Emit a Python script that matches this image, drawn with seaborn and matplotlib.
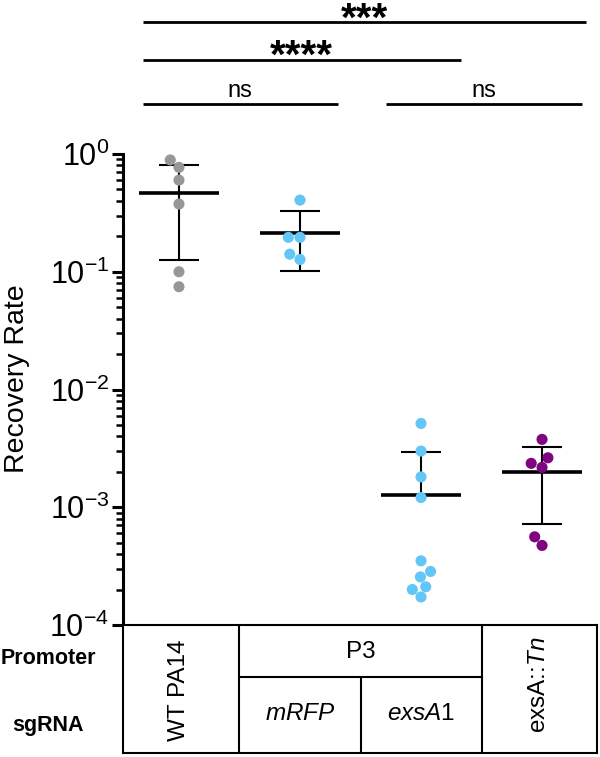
import numpy as np
import pandas as pd
import matplotlib
matplotlib.use("Agg")
import matplotlib.pyplot as plt
import seaborn as sns

# recovery rate per strain
groups = ["WT PA14", "mRFP", "exsA1", "exsA::Tn"]
wt_pa14 = [0.89, 0.77, 0.60, 0.376, 0.100, 0.0746]
p3_mrfp = [0.406, 0.196, 0.196, 0.141, 0.127]
p3_exsa1 = [0.00515, 0.0030, 0.00181, 0.00121, 0.000351, 0.000285,
            0.000256, 0.000211, 0.000200, 0.000173]
exsa_tn = [0.00377, 0.00263, 0.00236, 0.00218, 0.000561, 0.000474]
colors = ["#979797", "#62C6F7", "#7E057F"]
group_colors = [colors[0], colors[1], colors[1], colors[2]]

# significance brackets: (x start, x end, label)
brackets = [(-0.30, 3.36, "***"), (-0.30, 2.33, "****"),
            (-0.30, 1.31, "ns"), (1.71, 3.33, "ns")]

df = pd.DataFrame({
    "group": np.repeat(groups, [len(wt_pa14), len(p3_mrfp), len(p3_exsa1), len(exsa_tn)]),
    "rate": wt_pa14 + p3_mrfp + p3_exsa1 + exsa_tn,
})

sns.set_theme(style="ticks")
plt.rcParams["font.family"] = ["Liberation Sans", "DejaVu Sans"]
plt.rcParams["mathtext.fontset"] = "custom"
plt.rcParams["mathtext.rm"] = "Liberation Sans"
plt.rcParams["mathtext.it"] = "Liberation Sans:italic"
plt.rcParams["text.color"] = "black"
plt.rcParams["axes.labelcolor"] = "black"
plt.rcParams["ytick.color"] = "black"
plt.rcParams["ytick.labelcolor"] = "black"

fig = plt.figure(figsize=(6, 7.57), dpi=100)
W, H = 600, 757
left, right = 123.3 / W, 596.5 / W
xlim = (-0.46, 3.45)

ax = fig.add_axes([left, (H - 625) / H, right - left, (625 - 154) / H])
ax.set_yscale("log")
sns.swarmplot(data=df, x="group", y="rate", hue="group", palette=group_colors,
              order=groups, size=8, linewidth=0, legend=False, ax=ax, zorder=3)

stats = df.groupby("group", sort=False)["rate"].agg(["mean", "std"])
for i, g in enumerate(groups):
    m, s = stats.loc[g, "mean"], stats.loc[g, "std"]
    ax.hlines(m, i - 0.33, i + 0.33, color="black", lw=2.6, zorder=2)
    ax.hlines(m + s, i - 0.165, i + 0.165, color="black", lw=1.5, zorder=2)
    if m - s > 0:
        ax.hlines(m - s, i - 0.165, i + 0.165, color="black", lw=1.5, zorder=2)
        ax.vlines(i, m - s, m + s, color="black", lw=1.5, zorder=2)
    else:
        ax.vlines(i, m, m + s, color="black", lw=1.5, zorder=2)

ax.set_ylim(1e-4, 1)
ax.set_xlim(*xlim)
ax.set_xticks([])
ax.set_xlabel("")
ax.set_ylabel("Recovery Rate", fontsize=20.5, color="black")
ax.yaxis.set_label_coords(-0.198, 0.522)
ax.yaxis.set_minor_locator(matplotlib.ticker.LogLocator(base=10, subs=np.arange(2, 10), numticks=20))
ax.yaxis.set_minor_formatter(matplotlib.ticker.NullFormatter())
ax.tick_params(axis="y", which="major", labelsize=22, length=8, width=2.2, pad=2,
               color="black", labelcolor="black")
ax.tick_params(axis="y", which="minor", length=5, width=1.8, color="black")
for side in ["top", "right", "bottom"]:
    ax.spines[side].set_visible(False)
ax.spines["left"].set_linewidth(2.2)
ax.spines["left"].set_color("black")
ax.set_facecolor("none")

# brackets above the plot
ax_top = fig.add_axes([left, (H - 154) / H, right - left, 154 / H])
ax_top.set_xlim(*xlim)
ax_top.set_ylim(154, 0)
ax_top.axis("off")
bracket_y = [22, 60, 104, 104]
text_y = [31, 68, 97, 97]
for (x0, x1, lab), by, ty in zip(brackets, bracket_y, text_y):
    ax_top.hlines(by, x0, x1, color="black", lw=2.0)
    big = lab.startswith("*")
    ax_top.text((x0 + x1) / 2, ty, lab, ha="center", va="baseline",
                fontsize=29 if big else 17, fontweight="bold" if big else "normal",
                color="black")

# table below the plot
ax_tab = fig.add_axes([left, (H - 753) / H, right - left, (753 - 625) / H])
ax_tab.set_xlim(*xlim)
ax_tab.set_ylim(128, 0)
ax_tab.set_xticks([])
ax_tab.set_yticks([])
for sp in ax_tab.spines.values():
    sp.set_linewidth(1.5)
    sp.set_color("black")
ax_tab.vlines([0.5, 2.5], 0, 128, color="black", lw=1.5)
ax_tab.vlines(1.5, 52, 128, color="black", lw=1.5)
ax_tab.hlines(52, 0.5, 2.5, color="black", lw=1.5)
ax_tab.text(0, 65, "WT PA14", rotation=90, ha="center", va="center", fontsize=17.5)
ax_tab.text(1.5, 27, "P3", ha="center", va="center", fontsize=17.5)
ax_tab.text(1, 89, r"$\mathit{mRFP}$", ha="center", va="center", fontsize=17.5)
ax_tab.text(2, 89, r"$\mathit{exsA}$1", ha="center", va="center", fontsize=17.5)
ax_tab.text(2.975, 60, r"exsA::$\mathit{Tn}$", rotation=90, ha="center", va="center", fontsize=17.5)

fig.text(48 / W, 1 - 658 / H, "Promoter", ha="center", va="center", fontsize=15.5, fontweight="bold")
fig.text(48 / W, 1 - 725 / H, "sgRNA", ha="center", va="center", fontsize=15.5, fontweight="bold")

fig.savefig("out.png", dpi=100)
